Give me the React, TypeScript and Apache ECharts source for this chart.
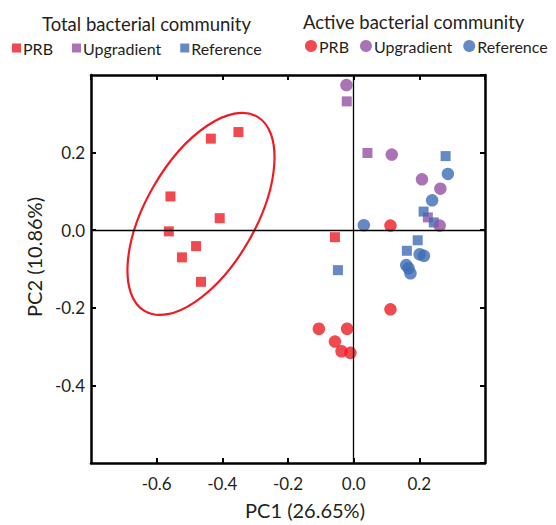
import React, { useEffect, useRef } from "react";
import * as echarts from "echarts";

// ---- data (PC1, PC2) ----
const totalPRB: number[][] = [
  [-0.351, 0.253], [-0.435, 0.236], [-0.558, 0.087], [-0.408, 0.031],
  [-0.563, -0.003], [-0.48, -0.041], [-0.523, -0.07], [-0.465, -0.133],
  [-0.057, -0.018],
];
const totalUpgradient: number[][] = [
  [-0.021, 0.332], [0.042, 0.199], [0.226, 0.033],
];
const totalReference: number[][] = [
  [0.28, 0.191], [0.213, 0.048], [0.244, 0.02], [0.195, -0.026],
  [0.162, -0.053], [-0.048, -0.103],
];
const activePRB: number[][] = [
  [0.112, 0.012], [0.112, -0.204], [-0.106, -0.254], [-0.02, -0.254],
  [-0.057, -0.287], [-0.037, -0.312], [-0.01, -0.316],
];
const activeUpgradient: number[][] = [
  [-0.022, 0.374], [0.116, 0.195], [0.208, 0.131], [0.264, 0.107], [0.262, 0.012],
];
const activeReference: number[][] = [
  [0.287, 0.145], [0.239, 0.077], [0.031, 0.013], [0.201, -0.062],
  [0.214, -0.066], [0.16, -0.09], [0.167, -0.098], [0.173, -0.111],
];
// confidence ellipse around the total PRB group: centre (PC1, PC2), semi-axes in PC1 units, tilt in degrees
const ellipseCenter: number[][] = [[-0.465, 0.042]];
const ellipseAxes = [0.342, 0.167];
const ellipseTiltDeg = 60;

const xTicks = { min: -0.8, max: 0.4, interval: 0.2 };
const yTicks = { min: -0.6, max: 0.4, interval: 0.2 };

const RED = "#ED1C24";
const PURPLE = "#9450A2";
const BLUE = "#3D6BB5";
const INK = "#231F20";
const FONT = "Lato";

export default function App() {
  const ref = useRef<HTMLDivElement>(null);
  useEffect(() => {
    if (!ref.current) return;
    const chart = echarts.init(ref.current, undefined, { renderer: "svg" });
    const sq = (name: string, data: number[][], color: string) => ({
      name, type: "scatter", data, symbol: "rect", symbolSize: 10,
      itemStyle: { color }, z: 3,
    });
    const ci = (name: string, data: number[][], color: string) => ({
      name, type: "scatter", data, symbol: "circle", symbolSize: 12.5,
      itemStyle: { color }, z: 3,
    });
    const axisCommon = {
      axisLine: { onZero: false, lineStyle: { color: "#000", width: 2.5 } },
      axisTick: { inside: true, length: 5, lineStyle: { color: "#000", width: 2 } },
      splitLine: { show: false },
      axisLabel: {
        color: INK, fontFamily: FONT, fontSize: 17,
        showMinLabel: false, showMaxLabel: false,
        formatter: (v: number) => v.toFixed(1),
      },
    };
    const mirror = { show: false };
    chart.setOption({
      animation: false,
      backgroundColor: "#fff",
      title: [
        { text: "Total bacterial community", left: 37, top: 9,
          textStyle: { fontFamily: FONT, fontSize: 18.5, fontWeight: "normal", color: INK } },
        { text: "Active bacterial community", left: 298, top: 7,
          textStyle: { fontFamily: FONT, fontSize: 18.5, fontWeight: "normal", color: INK } },
      ],
      legend: [
        {
          data: ["Total PRB", "Total Upgradient", "Total Reference"],
          left: 7, top: 35, width: 400, icon: "rect", itemWidth: 9, itemHeight: 9, itemGap: 19,
          formatter: (n: string) => n.replace("Total ", ""),
          textStyle: { fontFamily: FONT, fontSize: 16, color: INK, padding: [0, 0, 0, -3] },
        },
        {
          data: ["Active PRB", "Active Upgradient", "Active Reference"],
          left: 300, top: 33, width: 400, icon: "circle", itemWidth: 12, itemHeight: 12, itemGap: 11,
          formatter: (n: string) => n.replace("Active ", ""),
          textStyle: { fontFamily: FONT, fontSize: 16, color: INK, padding: [0, 0, 0, -3] },
        },
      ],
      grid: { left: 91, top: 75, width: 394, height: 397 },
      xAxis: [
        {
          type: "value", ...xTicks, ...axisCommon,
          axisLabel: { ...axisCommon.axisLabel, margin: 12 },
          name: "PC1 (26.65%)", nameLocation: "middle", nameGap: 37,
          nameTextStyle: { fontFamily: FONT, fontSize: 20, color: INK, padding: [0, 0, 0, 34] },
        },
        {
          type: "value", position: "top", ...xTicks, ...axisCommon,
          axisLabel: mirror,
        },
      ],
      yAxis: [
        {
          type: "value", ...yTicks, ...axisCommon,
          axisLabel: { ...axisCommon.axisLabel, margin: 6 },
          name: "PC2 (10.86%)", nameLocation: "middle", nameGap: 37,
          nameTextStyle: { fontFamily: FONT, fontSize: 20, color: INK, padding: [0, 0, 0, 24] },
        },
        {
          type: "value", position: "right", ...yTicks, ...axisCommon,
          axisLabel: mirror,
        },
      ],
      series: [
        {
          type: "custom", name: "ellipse", silent: true, z: 2,
          data: ellipseCenter,
          renderItem: (_p: any, api: any) => {
            const c = api.coord([api.value(0), api.value(1)]);
            const unit = api.size([1, 0])[0];
            return {
              type: "ellipse", x: c[0], y: c[1],
              rotation: (ellipseTiltDeg * Math.PI) / 180,
              shape: { cx: 0, cy: 0, rx: ellipseAxes[0] * unit, ry: ellipseAxes[1] * unit },
              style: { fill: "none", stroke: RED, lineWidth: 2.2 },
            };
          },
        },
        {
          type: "line", name: "zero", data: [], silent: true,
          markLine: {
            silent: true, symbol: "none", label: { show: false },
            lineStyle: { color: "#000", width: 1.3, type: "solid" },
            data: [{ xAxis: 0 }, { yAxis: 0 }],
          },
        },
        sq("Total PRB", totalPRB, RED),
        sq("Total Upgradient", totalUpgradient, PURPLE),
        sq("Total Reference", totalReference, BLUE),
        ci("Active PRB", activePRB, RED),
        ci("Active Upgradient", activeUpgradient, PURPLE),
        ci("Active Reference", activeReference, BLUE),
      ],
    });
    return () => chart.dispose();
  }, []);
  return <div ref={ref} style={{ width: 556, height: 525, position: "absolute", left: 0, top: 0 }} />;
}
